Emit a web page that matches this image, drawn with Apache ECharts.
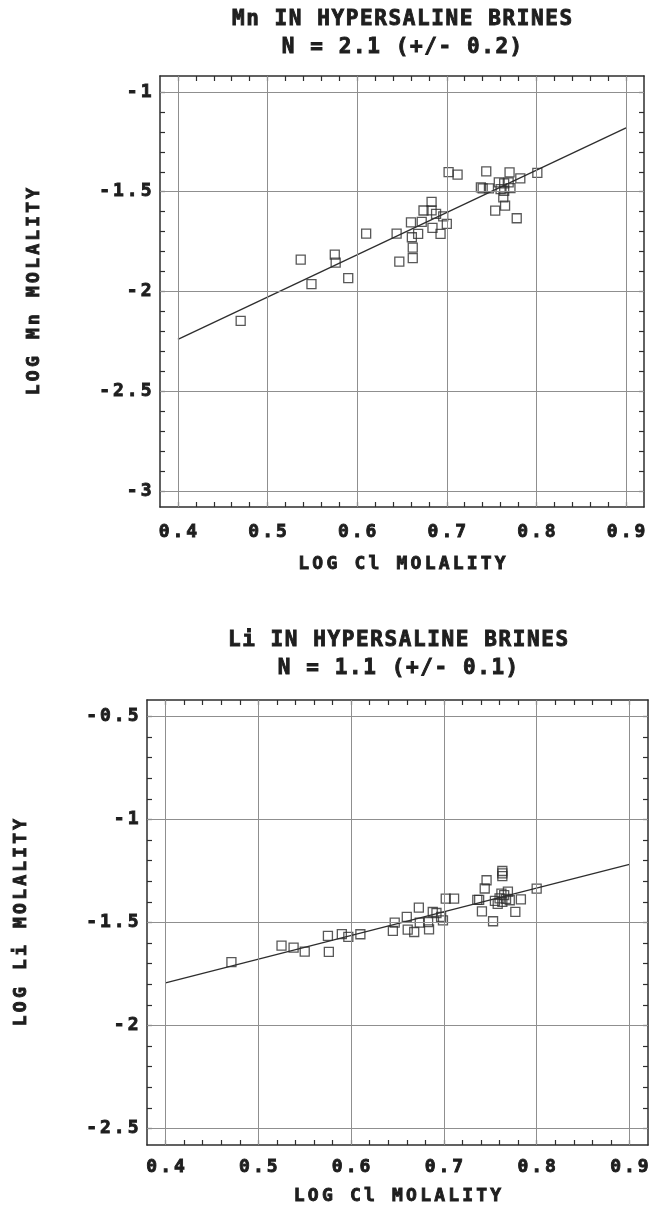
<!DOCTYPE html>
<html>
<head>
<meta charset="utf-8">
<script src="https://cdn.jsdelivr.net/npm/echarts@6/dist/echarts.min.js"></script>
<style>
  html, body { margin: 0; padding: 0; background: #fff; }
  #chart { width: 658px; height: 1213px; }
</style>
</head>
<body>
<div id="chart"></div>
<script>
// 数据: 上图 Mn, 下图 Li
const mnPoints = [
  [0.470, -2.147], [0.537, -1.840], [0.549, -1.963], [0.575, -1.815], [0.576, -1.855],
  [0.590, -1.933], [0.610, -1.710], [0.644, -1.710], [0.647, -1.850], [0.660, -1.654],
  [0.661, -1.728], [0.662, -1.780], [0.662, -1.833], [0.668, -1.711], [0.672, -1.651],
  [0.674, -1.594], [0.683, -1.551], [0.683, -1.593], [0.688, -1.611], [0.684, -1.681],
  [0.693, -1.711], [0.696, -1.624], [0.700, -1.661], [0.702, -1.402], [0.712, -1.414],
  [0.738, -1.478], [0.740, -1.483], [0.744, -1.398], [0.747, -1.483], [0.754, -1.595],
  [0.758, -1.453], [0.760, -1.487], [0.764, -1.458], [0.764, -1.495], [0.763, -1.528],
  [0.765, -1.570], [0.769, -1.453], [0.770, -1.403], [0.771, -1.482], [0.778, -1.633],
  [0.782, -1.433], [0.801, -1.405]
];
const mnFit = [[0.4, -2.24], [0.9, -1.18]];

const liPoints = [
  [0.471, -1.692], [0.525, -1.612], [0.538, -1.622], [0.550, -1.641], [0.575, -1.565],
  [0.576, -1.643], [0.590, -1.556], [0.597, -1.570], [0.610, -1.557], [0.645, -1.541],
  [0.647, -1.501], [0.660, -1.473], [0.661, -1.535], [0.668, -1.546], [0.673, -1.428],
  [0.674, -1.501], [0.683, -1.498], [0.684, -1.533], [0.688, -1.449], [0.692, -1.454],
  [0.697, -1.473], [0.699, -1.490], [0.702, -1.384], [0.711, -1.384], [0.736, -1.390],
  [0.738, -1.390], [0.741, -1.446], [0.744, -1.335], [0.746, -1.295], [0.753, -1.494],
  [0.755, -1.395], [0.758, -1.410], [0.760, -1.383], [0.762, -1.360], [0.763, -1.400],
  [0.763, -1.250], [0.763, -1.262], [0.763, -1.275], [0.765, -1.367], [0.767, -1.385],
  [0.769, -1.350], [0.771, -1.392], [0.777, -1.448], [0.783, -1.388], [0.800, -1.336]
];
const liFit = [[0.4, -1.793], [0.9, -1.218]];

// 刻度
const xLabels = [0.4, 0.5, 0.6, 0.7, 0.8, 0.9];
const mnYLabels = [-3, -2.5, -2, -1.5, -1];
const liYLabels = [-2.5, -2, -1.5, -1, -0.5];

function steps(from, to, step) {
  const out = [];
  const n = Math.round((to - from) / step);
  for (let i = 0; i <= n; i++) out.push(Math.round((from + i * step) * 1000) / 1000);
  return out;
}

// 绘图仪字体比较宽, 用 rich 文本给每个字加一点间距
function spaced(str) {
  return str.split('\n').map(line =>
    line.split('').map(ch => '{c|' + ch + '}').join('')
  ).join('\n');
}

const FONT = 'DejaVu Sans Mono';
const INK = '#1e1e1e';
const FRAME = '#2e2e2e';

function textRich(size, pad, lineHeight) {
  return {
    c: { fontFamily: FONT, fontWeight: 'bold', fontSize: size, color: INK,
      textBorderColor: INK, textBorderWidth: 0.9,
      padding: [0, pad], lineHeight: lineHeight }
  };
}

function xAxes(gridIndex, labelMargin, nameGap) {
  const base = {
    type: 'value', gridIndex: gridIndex, min: 0.38, max: 0.92,
    axisLine: { show: true, onZero: false, lineStyle: { color: FRAME, width: 1.5 } },
    axisTick: { show: true, inside: true, length: 5, customValues: steps(0.4, 0.9, 0.02),
      lineStyle: { color: FRAME, width: 1.2 } },
    splitLine: { show: false }
  };
  return [
    Object.assign({}, base, {
      position: 'bottom',
      name: spaced('LOG Cl MOLALITY'), nameLocation: 'middle', nameGap: nameGap,
      nameTextStyle: { rich: textRich(18, 1.6, 20) },
      axisLabel: { show: true, customValues: xLabels, margin: labelMargin,
        formatter: v => spaced(v.toFixed(1)),
        rich: textRich(18, 1.5, 20) }
    }),
    Object.assign({}, base, { position: 'top', axisLabel: { show: false } })
  ];
}

function yAxes(gridIndex, min, max, labels, name) {
  const base = {
    type: 'value', gridIndex: gridIndex, min: min, max: max,
    axisLine: { show: true, onZero: false, lineStyle: { color: FRAME, width: 1.5 } },
    axisTick: { show: true, inside: true, length: 5, customValues: steps(labels[0], labels[labels.length - 1], 0.1),
      lineStyle: { color: FRAME, width: 1.2 } },
    splitLine: { show: false }
  };
  return [
    Object.assign({}, base, {
      position: 'left',
      name: spaced(name), nameLocation: 'middle', nameGap: 116,
      nameTextStyle: { rich: textRich(18, 1.6, 20) },
      axisLabel: { show: true, customValues: labels, margin: 7,
        formatter: v => spaced(String(v)),
        rich: textRich(18, 1.5, 20) }
    }),
    Object.assign({}, base, { position: 'right', axisLabel: { show: false } })
  ];
}

function gridLines(yLabels) {
  return xLabels.map(v => ({ xAxis: v })).concat(yLabels.map(v => ({ yAxis: v })));
}

function panelSeries(points, fit, xIdx, yIdx, yLabels) {
  return [
    {
      type: 'line', xAxisIndex: xIdx, yAxisIndex: yIdx, data: fit,
      showSymbol: false, silent: true,
      lineStyle: { color: FRAME, width: 1.3 },
      markLine: {
        silent: true, symbol: ['none', 'none'], label: { show: false },
        lineStyle: { color: '#8f8f8f', width: 1, type: 'solid' },
        data: gridLines(yLabels)
      },
      z: 3
    },
    {
      type: 'scatter', xAxisIndex: xIdx, yAxisIndex: yIdx, data: points,
      symbol: 'rect', symbolSize: 9,
      itemStyle: { color: 'rgba(0,0,0,0)', borderColor: FRAME, borderWidth: 1.3 },
      z: 4
    }
  ];
}

const chart = echarts.init(document.getElementById('chart'));

const titleStyle = { rich: textRich(21, 0.8, 28) };

const option = {
  animation: false,
  backgroundColor: '#fff',
  title: [
    { text: spaced('Mn IN HYPERSALINE BRINES\nN = 2.1 (+/- 0.2)'), left: 402, top: 6, padding: 0,
      textAlign: 'center', textStyle: titleStyle },
    { text: spaced('Li IN HYPERSALINE BRINES\nN = 1.1 (+/- 0.1)'), left: 398, top: 627, padding: 0,
      textAlign: 'center', textStyle: titleStyle }
  ],
  grid: [
    { left: 160, top: 76, width: 484, height: 431 },
    { left: 147, top: 700, width: 501, height: 445 }
  ],
  xAxis: xAxes(0, 15, 47).concat(xAxes(1, 12, 41)),
  yAxis: yAxes(0, -3.08, -0.92, mnYLabels, 'LOG Mn MOLALITY')
    .concat(yAxes(1, -2.58, -0.42, liYLabels, 'LOG Li MOLALITY')),
  series: panelSeries(mnPoints, mnFit, 0, 0, mnYLabels)
    .concat(panelSeries(liPoints, liFit, 2, 2, liYLabels))
};

chart.setOption(option);
</script>
</body>
</html>
